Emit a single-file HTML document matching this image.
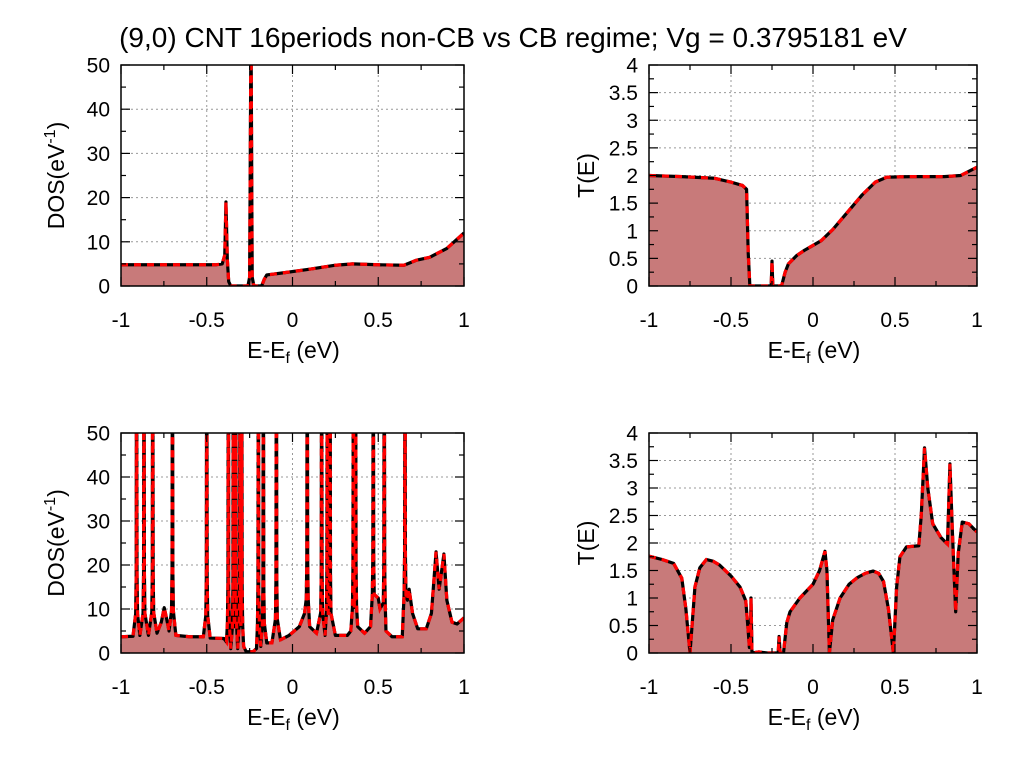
<!DOCTYPE html>
<html><head><meta charset="utf-8"><style>
body{margin:0;background:#fff;}
svg{display:block;font-family:"Liberation Sans",sans-serif;}
</style></head><body>
<svg id="c" width="1024" height="768" viewBox="0 0 1024 768" xmlns="http://www.w3.org/2000/svg">
<text x="513" y="47" font-size="28" text-anchor="middle">(9,0) CNT 16periods non-CB vs CB regime; Vg = 0.3795181 eV</text>
</svg>
<script>
// Top-left DOS data: baseline points [E, DOS]
const dos1Base = [[-1,4.8],[-0.6,4.8],[-0.45,4.8],[-0.41,5],[-0.395,7],[-0.388,19],[-0.38,6],[-0.372,1],[-0.36,0],[-0.26,0],[-0.25,2],[-0.242,60],[-0.235,2],[-0.225,0],[-0.18,0],[-0.165,1.5],[-0.15,2.5],[-0.05,3],[0.1,3.8],[0.25,4.7],[0.35,5],[0.5,4.8],[0.65,4.7],[0.72,5.8],[0.8,6.5],[0.9,8.5],[1,12]];
const dos1Spikes = [];
// Top-right T data
const t1Pts = [[-1,2],[-0.8,1.98],[-0.6,1.95],[-0.5,1.88],[-0.43,1.82],[-0.405,1.75],[-0.395,0.6],[-0.385,0],[-0.255,0],[-0.25,0.45],[-0.245,0],[-0.2,0],[-0.19,0.02],[-0.17,0.25],[-0.15,0.4],[-0.1,0.55],[-0.05,0.65],[0.05,0.82],[0.12,1.02],[0.2,1.3],[0.3,1.65],[0.38,1.88],[0.45,1.97],[0.6,1.98],[0.8,1.98],[0.9,2],[1,2.15]];
// Bottom-left DOS data
const dos2Base = [[-1,3.7],[-0.93,3.8],[-0.89,4],[-0.84,4],[-0.79,4.5],[-0.765,7],[-0.748,10.3],[-0.735,8],[-0.72,5],[-0.68,4],[-0.6,3.7],[-0.52,3.7],[-0.48,3.4],[-0.4,3.3],[-0.385,2.5],[-0.36,1],[-0.32,1],[-0.285,1.5],[-0.27,0.3],[-0.23,0.3],[-0.21,1],[-0.185,1.5],[-0.15,2.3],[-0.12,2.3],[-0.07,3],[-0.02,4],[0.04,6],[0.07,9],[0.1,6],[0.14,4.5],[0.19,4],[0.25,4],[0.32,4],[0.34,5],[0.38,6],[0.42,4.5],[0.455,6],[0.5,12.5],[0.51,10],[0.545,5],[0.58,3.7],[0.64,3.7],[0.67,12],[0.68,14.5],[0.7,9],[0.73,5.5],[0.78,5.5],[0.81,9],[0.837,23],[0.855,14.5],[0.883,22.5],[0.9,12],[0.93,7],[0.96,6.6],[1,8]];
const dos2Spikes = [-0.909,-0.866,-0.815,-0.70,-0.50,-0.374,-0.345,-0.331,-0.306,-0.296,-0.199,-0.17,-0.094,0.086,0.170,0.203,0.219,0.355,0.368,0.471,0.535,0.656];
// Bottom-right T data
const t2Pts = [[-1,1.76],[-0.92,1.7],[-0.85,1.63],[-0.8,1.36],[-0.775,0.8],[-0.75,0],[-0.735,0.6],[-0.72,1.2],[-0.69,1.55],[-0.65,1.7],[-0.61,1.67],[-0.57,1.6],[-0.5,1.4],[-0.445,1.2],[-0.41,0.95],[-0.395,0.4],[-0.388,0.1],[-0.382,0.1],[-0.378,1.0],[-0.372,0],[-0.33,0.02],[-0.28,0],[-0.212,0],[-0.207,0.3],[-0.2,0],[-0.18,0],[-0.16,0.55],[-0.14,0.75],[-0.08,1.0],[0.0,1.25],[0.04,1.5],[0.073,1.85],[0.085,1.5],[0.1,0],[0.12,0.6],[0.165,1.0],[0.22,1.25],[0.27,1.37],[0.32,1.45],[0.366,1.49],[0.4,1.45],[0.43,1.3],[0.46,0.8],[0.49,0],[0.51,1.2],[0.53,1.75],[0.57,1.93],[0.645,1.95],[0.66,2.5],[0.68,3.73],[0.7,3],[0.73,2.35],[0.78,2.1],[0.82,1.98],[0.835,3.44],[0.85,2.2],[0.87,0.75],[0.885,1.8],[0.91,2.38],[0.95,2.35],[1,2.2]];

const NS="http://www.w3.org/2000/svg";
const svg=document.getElementById('c');
function mk(tag,attrs,parent){const e=document.createElementNS(NS,tag);for(const k in attrs)e.setAttribute(k,attrs[k]);(parent||svg).appendChild(e);return e;}

function withSpikes(base,spikes){
  const w=0.0055;
  let pts=base.filter(p=>!spikes.some(s=>Math.abs(p[0]-s)<=w+1e-4));
  spikes.forEach(s=>{
    let b=3.7;
    for(let i=0;i<base.length-1;i++){if(base[i][0]<=s&&base[i+1][0]>=s){const t=(s-base[i][0])/(base[i+1][0]-base[i][0]);b=base[i][1]+t*(base[i+1][1]-base[i][1]);}}
    pts.push([s-w,b+5],[s-w*0.45,b+14],[s-w*0.2,60],[s+w*0.2,60],[s+w*0.45,b+14],[s+w,b+5]);
  });
  pts.sort((a,b)=>a[0]-b[0]);
  return pts;
}

function panel(id,L,R,T,B,ymax,ystep,yminor,ylabels,pts,ylabelType){
  const g=mk('g',{});
  
  
  const sx=e=>L+(e+1)/2*(R-L);
  const sy=v=>B-v/ymax*(B-T);
  const cid='clip-'+id;
  const cp=mk('clipPath',{id:cid},g);mk('rect',{x:L,y:T,width:R-L,height:B-T},cp);
  [-0.5,0,0.5].forEach(e=>{const l=mk('line',{x1:sx(e),x2:sx(e),y1:T,y2:B,stroke:'#999','stroke-width':1,'stroke-dasharray':'2,3'},g);});
  for(let v=ystep;v<ymax-1e-9;v+=ystep){const l=mk('line',{x1:L,x2:R,y1:sy(v),y2:sy(v),stroke:'#999','stroke-width':1,'stroke-dasharray':'2,3'},g);}
  let d='M'+sx(pts[0][0])+','+sy(0);
  pts.forEach(p=>d+=' L'+sx(p[0]).toFixed(2)+','+sy(p[1]).toFixed(2));
  d+=' L'+sx(pts[pts.length-1][0])+','+sy(0)+' Z';
  const f=mk('path',{d:d,fill:'#c87a7a','clip-path':'url(#'+cid+')'},g);
  
  let ld='M'+pts.map(p=>sx(p[0]).toFixed(2)+','+sy(p[1]).toFixed(2)).join(' L');
  const l1=mk('path',{d:ld,fill:'none',stroke:'#000','stroke-width':3.2,'stroke-linejoin':'round','clip-path':'url(#'+cid+')'},g);
  
  const l2=mk('path',{d:ld,fill:'none',stroke:'#f00','stroke-width':3.2,'stroke-dasharray':'7,6','clip-path':'url(#'+cid+')'},g);
  
  mk('rect',{x:L,y:T,width:R-L,height:B-T,fill:'none',stroke:'#000','stroke-width':1.5},g);
  for(let e=-1;e<=1.001;e+=0.25){const maj=Math.abs(e*2-Math.round(e*2))<1e-6;const len=maj?9:5;
    mk('line',{x1:sx(e),x2:sx(e),y1:B,y2:B-len,stroke:'#000','stroke-width':1.2},g);
    mk('line',{x1:sx(e),x2:sx(e),y1:T,y2:T+len,stroke:'#000','stroke-width':1.2},g);
    if(maj){const t=mk('text',{x:sx(e),y:B+41,'font-size':21,'text-anchor':'middle'},g);t.textContent=String(Math.round(e*2)/2);}
  }
  for(let v=0;v<=ymax+1e-9;v+=yminor){const maj=Math.abs(v/ystep-Math.round(v/ystep))<1e-6;const len=maj?9:5;
    mk('line',{x1:L,x2:L+len,y1:sy(v),y2:sy(v),stroke:'#000','stroke-width':1.2},g);
    mk('line',{x1:R,x2:R-len,y1:sy(v),y2:sy(v),stroke:'#000','stroke-width':1.2},g);
  }
  ylabels.forEach(v=>{const t=mk('text',{x:L-11,y:sy(v)+7.5,'font-size':21,'text-anchor':'end'},g);t.textContent=String(v);});
  const xl=mk('text',{x:(L+R)/2+1,y:B+72,'font-size':23,'text-anchor':'middle'},g);
  xl.innerHTML='E-E<tspan font-size="16" dy="5">f</tspan><tspan dy="-5"> (eV)</tspan>';
  
  const cx=(ylabelType==='dos')?L-57:L-55;const cy=(T+B)/2;
  const yl=mk('text',{x:cx,y:cy,'font-size':23,'text-anchor':'middle',transform:'rotate(-90 '+cx+' '+cy+')'},g);
  if(ylabelType==='dos') yl.innerHTML='DOS(eV<tspan font-size="16" dy="-9">-1</tspan><tspan dy="9">)</tspan>';
  else yl.textContent='T(E)';
  
}
panel('dos-top-panel',121,464,65,286,50,10,5,[0,10,20,30,40,50],withSpikes(dos1Base,dos1Spikes),'dos');
panel('transmission-top-panel',649,977,65,286,4,0.5,0.25,[0,0.5,1,1.5,2,2.5,3,3.5,4],t1Pts,'t');
panel('dos-bottom-panel',121,464,433,653,50,10,5,[0,10,20,30,40,50],withSpikes(dos2Base,dos2Spikes),'dos');
panel('transmission-bottom-panel',649,977,433,653,4,0.5,0.25,[0,0.5,1,1.5,2,2.5,3,3.5,4],t2Pts,'t');
</script>
</body></html>
